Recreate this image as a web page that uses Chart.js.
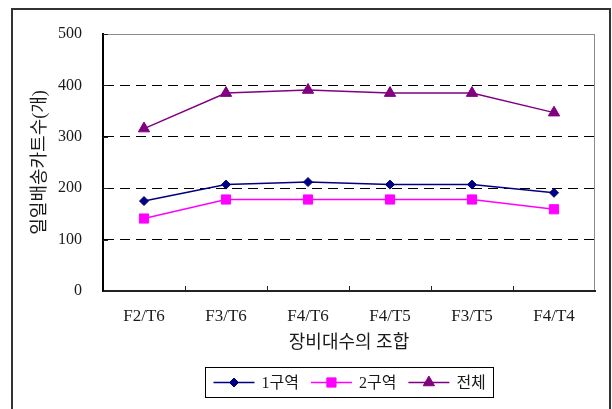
<!DOCTYPE html>
<html>
<head>
<meta charset="utf-8">
<script src="https://cdn.jsdelivr.net/npm/chart.js@4/dist/chart.umd.min.js"></script>
<style>
  html, body { margin: 0; padding: 0; background: #fff; overflow: hidden; }
  #wrap { width: 612px; height: 409px; position: relative; }
</style>
</head>
<body>
<div id="wrap"><canvas id="c" width="612" height="409"></canvas></div>
<script>
// Equipment combinations (x axis) and daily delivery cart counts per zone
const categories = ['F2/T6', 'F3/T6', 'F4/T6', 'F4/T5', 'F3/T5', 'F4/T4'];
const zone1 = [175, 207, 212, 207, 207, 191];
const zone2 = [141, 178, 178, 178, 178, 159];
const total = [316, 385, 391, 385, 385, 347];
const seriesNames = ['1구역', '2구역', '전체'];
const yTicks = [0, 100, 200, 300, 400, 500];

const FONT_FAMILY = "'Liberation Serif', 'Noto Sans CJK KR', serif";
const TEXT = '#1a1a1a';

// Frame, inward tick marks and the boxed legend under the plot
const decorations = {
  id: 'decorations',
  beforeDraw(chart) {
    const ctx = chart.ctx;
    const a = chart.chartArea;
    ctx.save();
    ctx.fillStyle = '#fff';
    ctx.fillRect(0, 0, chart.width, chart.height);
    // outer border
    ctx.strokeStyle = '#333';
    ctx.lineWidth = 2;
    ctx.beginPath();
    ctx.moveTo(12, 420);
    ctx.lineTo(12, 9);
    ctx.lineTo(610, 9);
    ctx.lineTo(610, 420);
    ctx.stroke();
    // plot frame (top / right)
    ctx.strokeStyle = '#8c8c8c';
    ctx.lineWidth = 1;
    ctx.strokeRect(a.left + 0.5, a.top + 0.5, a.right - a.left - 1, a.bottom - a.top);
    ctx.restore();
  },
  afterDraw(chart) {
    const ctx = chart.ctx;
    const a = chart.chartArea;
    const xs = chart.scales.x;
    const ys = chart.scales.y;
    ctx.save();
    ctx.strokeStyle = '#222';
    ctx.lineWidth = 1;
    // category boundary ticks pointing into the plot
    for (let i = 1; i < categories.length; i++) {
      const x = Math.round((xs.getPixelForTick(i - 1) + xs.getPixelForTick(i)) / 2) + 0.5;
      ctx.beginPath();
      ctx.moveTo(x, a.bottom);
      ctx.lineTo(x, a.bottom - 5);
      ctx.stroke();
    }
    // value ticks pointing into the plot
    yTicks.forEach(v => {
      const y = Math.round(ys.getPixelForValue(v)) + 0.5;
      ctx.beginPath();
      ctx.moveTo(a.left, y);
      ctx.lineTo(a.left + 5, y);
      ctx.stroke();
    });

    // legend
    ctx.font = '16px ' + FONT_FAMILY;
    const sample = 41, gapText = 7, gapItem = 12, padX = 8;
    const widths = chart.data.datasets.map(d => sample + gapText + ctx.measureText(d.label).width);
    const inner = widths.reduce((s, w) => s + w, 0) + gapItem * (widths.length - 1);
    const boxW = inner + padX * 2;
    const boxH = 30;
    const cx = (a.left + a.right) / 2;
    const bx = Math.round(cx - boxW / 2) + 0.5;
    const by = 367.5;
    ctx.strokeStyle = '#000';
    ctx.lineWidth = 1;
    ctx.strokeRect(bx, by, Math.round(boxW), boxH);
    const ly = by + boxH / 2;
    let x = bx + padX;
    chart.data.datasets.forEach((d, i) => {
      ctx.strokeStyle = d.borderColor;
      ctx.lineWidth = 1.5;
      ctx.beginPath();
      ctx.moveTo(x, ly);
      ctx.lineTo(x + sample, ly);
      ctx.stroke();
      ctx.fillStyle = d.pointBackgroundColor;
      ctx.strokeStyle = d.pointBorderColor;
      ctx.lineWidth = d.pointBorderWidth;
      Chart.helpers.drawPoint(ctx, { pointStyle: d.pointStyle, radius: d.pointRadius, borderWidth: d.pointBorderWidth, rotation: 0 }, x + sample / 2, ly);
      ctx.fillStyle = TEXT;
      ctx.textAlign = 'left';
      ctx.textBaseline = 'middle';
      ctx.fillText(d.label, x + sample + gapText, ly + 1);
      x += widths[i] + gapItem;
    });
    ctx.restore();
  }
};

function series(label, data, color, style, radius) {
  return {
    label, data,
    borderColor: color,
    backgroundColor: color,
    borderWidth: 1.5,
    pointStyle: style,
    pointRadius: radius,
    pointHoverRadius: radius,
    pointBackgroundColor: color,
    pointBorderColor: color,
    pointBorderWidth: 1,
    tension: 0,
    fill: false
  };
}

new Chart(document.getElementById('c'), {
  type: 'line',
  data: {
    labels: categories,
    datasets: [
      series(seriesNames[0], zone1, '#000080', 'rectRot', 4.5),
      series(seriesNames[1], zone2, '#ff00ff', 'rect', 6.5),
      series(seriesNames[2], total, '#800080', 'triangle', 6.5)
    ]
  },
  options: {
    responsive: false,
    devicePixelRatio: 1,
    animation: false,
    layout: { padding: { top: 34, right: 17, left: 0, bottom: 0 } },
    plugins: {
      legend: { display: false },
      tooltip: { enabled: false }
    },
    scales: {
      x: {
        offset: true,
        afterFit(s) { s.height = 118; },
        grid: { display: false, drawTicks: false },
        border: { display: true, color: '#222', width: 2 },
        ticks: {
          padding: 15,
          color: TEXT,
          font: { family: FONT_FAMILY, size: 17 }
        },
        title: {
          display: true,
          text: '장비대수의 조합',
          color: TEXT,
          font: { family: FONT_FAMILY, size: 18 },
          padding: { top: 0, bottom: 55 }
        }
      },
      y: {
        min: 0,
        max: 500,
        afterFit(s) { s.width = 103; },
        afterBuildTicks(s) { s.ticks = yTicks.map(v => ({ value: v })); },
        grid: {
          drawTicks: false,
          color: c => (c.tick && (c.tick.value === 0 || c.tick.value === 500)) ? 'rgba(0,0,0,0)' : '#000',
          lineWidth: 1
        },
        border: { display: true, color: '#000', width: 2, dash: [10, 6] },
        ticks: {
          padding: 21,
          color: TEXT,
          font: { family: FONT_FAMILY, size: 16 }
        },
        title: {
          display: true,
          text: '일일배송카트수(개)',
          color: TEXT,
          font: { family: FONT_FAMILY, size: 18 },
          padding: { top: 29, bottom: 0 }
        }
      }
    }
  },
  plugins: [decorations]
});
</script>
</body>
</html>
